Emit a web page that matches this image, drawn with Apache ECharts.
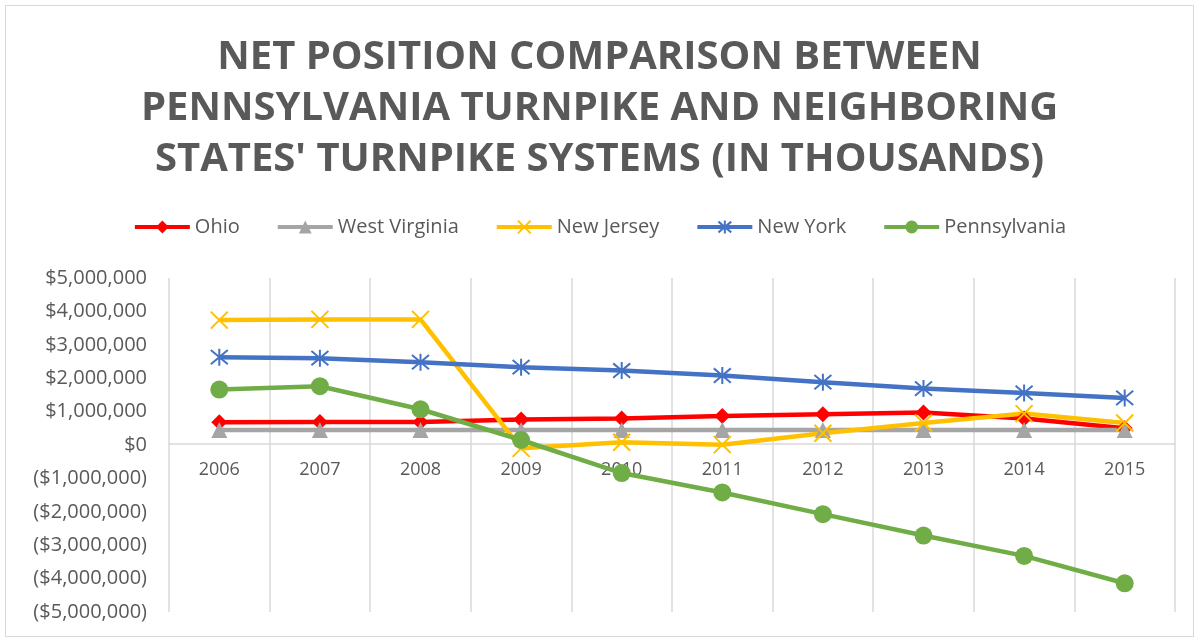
<!DOCTYPE html>
<html>
<head>
<meta charset="utf-8">
<script src="https://cdn.jsdelivr.net/npm/echarts@6/dist/echarts.min.js"></script>
<style>
  html, body { margin: 0; padding: 0; background: #fff; }
  #main { position: absolute; left: 5px; top: 5px; width: 1189px; height: 632px; border: 1px solid #d9d9d9; box-sizing: border-box; }
</style>
</head>
<body>
<div id="main"></div>
<script>
const years = ['2006', '2007', '2008', '2009', '2010', '2011', '2012', '2013', '2014', '2015'];
const ohio = [680000, 690000, 690000, 760000, 790000, 870000, 920000, 970000, 790000, 500000];
const westVirginia = [450000, 450000, 450000, 450000, 450000, 450000, 450000, 450000, 450000, 450000];
const newJersey = [3740000, 3760000, 3760000, -100000, 80000, 10000, 350000, 660000, 940000, 660000];
const newYork = [2630000, 2600000, 2480000, 2330000, 2230000, 2080000, 1880000, 1690000, 1560000, 1410000];
const pennsylvania = [1660000, 1760000, 1070000, 150000, -840000, -1420000, -2070000, -2710000, -3320000, -4140000];

const chartDom = document.getElementById('main');
const myChart = echarts.init(chartDom);

const xMark = 'path://M0,0L10,10M10,0L0,10';
const starMark = 'path://M5,0L5,10M0.8,0.8L9.2,9.2M9.2,0.8L0.8,9.2';

// grid geometry (the x axis sits on the zero line, halfway up the plot)
const gridTop = 272;
const gridBottom = 24;
const plotHeight = 632 - gridTop - gridBottom;

function money(v) {
  const s = '$' + Math.abs(v).toLocaleString('en-US');
  return v < 0 ? '(' + s + ')' : s;
}

function lineSeries(name, data, color, symbol, size, extra) {
  return Object.assign({
    name: name,
    type: 'line',
    data: data,
    symbol: symbol,
    symbolSize: size,
    lineStyle: { color: color, width: 4.5 },
    itemStyle: { color: color }
  }, extra || {});
}

let option = {
  title: {
    text: 'NET POSITION COMPARISON BETWEEN\nPENNSYLVANIA TURNPIKE AND NEIGHBORING\nSTATES\' TURNPIKE SYSTEMS (IN THOUSANDS)',
    left: 'center',
    top: 21,
    textStyle: {
      fontFamily: 'Open Sans',
      fontWeight: 'bold',
      fontSize: 40,
      lineHeight: 51,
      color: '#595959'
    }
  },
  legend: {
    top: 206,
    left: 'center',
    itemWidth: 55,
    itemHeight: 16,
    itemGap: 36,
    lineStyle: { width: 4 },
    textStyle: { fontFamily: 'Open Sans', fontSize: 20, color: '#595959' },
    data: ['Ohio', 'West Virginia', 'New Jersey', 'New York', 'Pennsylvania']
  },
  grid: {
    left: 163,
    right: 18,
    top: gridTop,
    bottom: gridBottom,
    containLabel: false
  },
  xAxis: {
    type: 'category',
    data: years,
    boundaryGap: true,
    offset: -plotHeight / 2,
    axisLine: { onZero: false, lineStyle: { color: '#d9d9d9', width: 1.5 } },
    axisTick: { show: false },
    axisLabel: { fontFamily: 'Open Sans', fontSize: 18, color: '#595959', margin: 17 },
    splitLine: { show: true, lineStyle: { color: '#d9d9d9', width: 1.5 } }
  },
  yAxis: {
    type: 'value',
    min: -5000000,
    max: 5000000,
    interval: 1000000,
    axisLine: { show: false },
    axisTick: { show: false },
    splitLine: { show: false },
    axisLabel: {
      fontFamily: 'Open Sans',
      fontSize: 20,
      color: '#595959',
      margin: 22,
      formatter: money
    }
  },
  series: [
    lineSeries('Ohio', ohio, '#FF0000', 'diamond', 16),
    lineSeries('West Virginia', westVirginia, '#A5A5A5', 'triangle', 16),
    lineSeries('New Jersey', newJersey, '#FFC000', xMark, 17, {
      itemStyle: { color: '#FFC000', borderColor: '#FFC000', borderWidth: 2 }
    }),
    lineSeries('New York', newYork, '#4472C4', starMark, 17, {
      itemStyle: { color: '#4472C4', borderColor: '#4472C4', borderWidth: 2 }
    }),
    lineSeries('Pennsylvania', pennsylvania, '#70AD47', 'circle', 18)
  ]
};

myChart.setOption(option);
</script>
</body>
</html>
